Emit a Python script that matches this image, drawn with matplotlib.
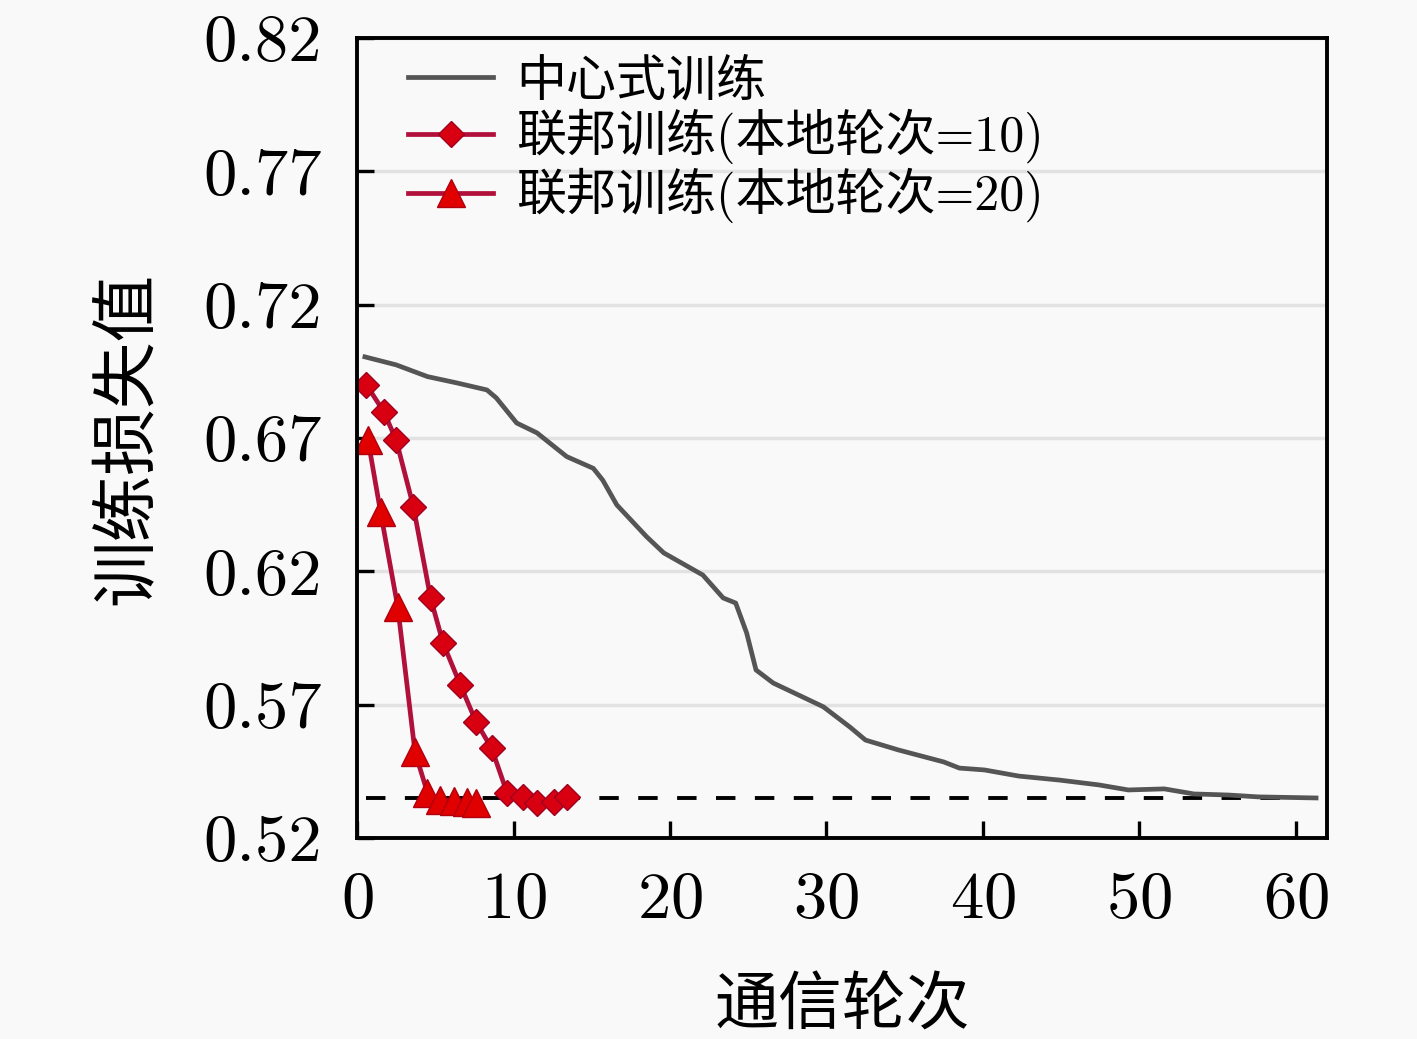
import numpy as np
import matplotlib
matplotlib.use('Agg')
import matplotlib.pyplot as plt

# 中心式训练
central_x = [0.5, 2.5, 4.5, 6.4, 8.3, 8.9, 10.2, 11.5, 13.4, 15.1, 15.7, 16.6, 18.5, 19.6,
             22.1, 23.4, 24.2, 24.9, 25.5, 26.6, 29.8, 31.5, 32.5, 34.6, 37.5, 38.5, 40.1,
             42.3, 44.9, 47.4, 49.3, 51.6, 53.5, 55.7, 57.6, 61.3]
central_y = [0.7004, 0.6974, 0.6930, 0.6906, 0.6880, 0.6850, 0.6756, 0.6719, 0.6630, 0.6586,
             0.6542, 0.6449, 0.6330, 0.6269, 0.6186, 0.6100, 0.6081, 0.5969, 0.5830, 0.5781,
             0.5692, 0.5616, 0.5567, 0.5530, 0.5485, 0.5462, 0.5455, 0.5432, 0.5417, 0.5399,
             0.5380, 0.5384, 0.5365, 0.5361, 0.5354, 0.5350]

# 联邦训练(本地轮次=10)
fed10_x = [0.6, 1.7, 2.5, 3.6, 4.7, 5.5, 6.6, 7.6, 8.6, 9.6, 10.6, 11.5, 12.6, 13.4]
fed10_y = [0.6899, 0.6799, 0.6692, 0.6442, 0.6099, 0.5930, 0.5774, 0.5636, 0.5536, 0.5367,
           0.5355, 0.5330, 0.5336, 0.5355]

# 联邦训练(本地轮次=20)
fed20_x = [0.7, 1.5, 2.6, 3.7, 4.5, 5.3, 6.2, 7.0, 7.6]
fed20_y = [0.6692, 0.6422, 0.6066, 0.5523, 0.5369, 0.5342, 0.5340, 0.5335, 0.5330]

best_loss = 0.535
xticks = [0, 10, 20, 30, 40, 50, 60]
yticks = [0.52, 0.57, 0.62, 0.67, 0.72, 0.77, 0.82]

plt.rcParams['font.family'] = ['cmr10', 'Noto Sans CJK SC']
plt.rcParams['axes.formatter.use_mathtext'] = True

bg = '#f9f9f9'
fig = plt.figure(figsize=(14.17, 10.39), dpi=100, facecolor=bg)
ax = fig.add_axes([0.252, 0.1935, 0.6845, 0.77])
ax.set_facecolor(bg)

ax.plot(central_x, central_y, color='#555555', lw=3.4, label='中心式训练')
ax.plot(fed10_x, fed10_y, color='#b0103a', lw=3.4, marker='D', ms=13,
        mfc='#d80010', mec='#a00020', label='联邦训练(本地轮次=10)')
ax.plot(fed20_x, fed20_y, color='#b0103a', lw=3.4, marker='^', ms=20,
        mfc='#e00000', mec='#b00010', label='联邦训练(本地轮次=20)')
ax.plot([0.6, 61.3], [best_loss, best_loss], color='black', lw=2.8,
        dashes=(5, 5), zorder=1)

ax.set_xlim(0, 62)
ax.set_ylim(0.52, 0.82)
ax.set_xticks(xticks)
ax.set_yticks(yticks)
ax.set_yticklabels(['%.2f' % v for v in yticks])
ax.yaxis.grid(True, color='#e2e2e2', lw=2.5)
ax.set_axisbelow(True)
ax.tick_params(direction='in', length=12, width=2.4, labelsize=48)
ax.tick_params(axis='y', pad=25)
ax.tick_params(axis='x', pad=24)
for s in ax.spines.values():
    s.set_linewidth(2.8)

ax.set_xlabel('通信轮次', fontsize=46, labelpad=34)
ax.set_ylabel('训练损失值', fontsize=48, labelpad=32)

ax.legend(loc='upper left', frameon=False, fontsize=36, handlelength=1.7,
          handletextpad=0.45, labelspacing=0.08, borderaxespad=0.2,
          bbox_to_anchor=(0.022, 1.012))

fig.savefig('out.png', dpi=100, facecolor=bg)
